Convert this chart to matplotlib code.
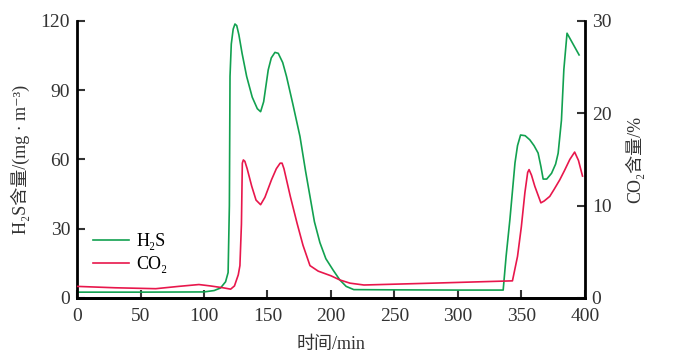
import matplotlib
matplotlib.use("Agg")
import matplotlib.pyplot as plt

plt.rcParams['font.family'] = ['Liberation Serif', 'Noto Sans CJK SC', 'DejaVu Serif']

# H2S (mg/m3)
h2s_time = [0, 50, 100, 108, 113, 117, 119, 120, 120.5, 121.5, 123, 124.4, 125.8, 127.5,
            130, 133.6, 138, 142, 144.6, 147, 150.6, 153, 155.9, 158.5, 162, 165, 170,
            175.6, 180, 183.5, 187, 191.3, 196, 201.8, 207, 212, 218, 250, 300, 335.7,
            338, 341, 345, 347, 349.4, 353, 356.7, 360, 363.2, 365.4, 367.2, 370, 373.8,
            377, 379, 381.6, 383.5, 386, 395.5]
h2s_value = [2.5, 2.5, 2.6, 3.2, 4.3, 7, 11, 40, 96, 110, 116.5, 118.7, 118, 114,
             106, 96, 87, 82, 80.7, 85, 98.8, 104, 106.4, 106, 102, 96, 84,
             70, 55, 44, 33, 24, 17, 12, 7.8, 5, 3.6, 3.5, 3.4, 3.4,
             18, 34, 58.5, 66, 70.6, 70.3, 68.5, 66, 62.8, 57, 51.5, 51.5, 54,
             58, 62.7, 77, 99, 114.7, 105.3]

# CO2 (%)
co2_time = [0, 30, 62, 80, 96, 105, 115, 121, 124, 127, 128.3, 129.5, 130.2, 131,
            132.2, 134, 137.6, 141, 144.6, 148, 153.2, 157, 160, 161.5, 163, 168, 173.3,
            178, 183.5, 190, 200, 207, 215, 226, 280, 343, 347, 350, 352.8, 355, 356.1,
            358, 360.6, 363, 365.4, 368, 372.4, 376, 380.3, 384, 388.2, 392, 395, 398.2]
co2_value = [1.25, 1.1, 1.0, 1.25, 1.45, 1.3, 1.1, 0.95, 1.3, 2.5, 3.5, 8, 14.6, 14.95,
             14.8, 14, 12.1, 10.6, 10.1, 10.9, 12.8, 14, 14.6, 14.6, 14, 11, 8.1,
             5.7, 3.5, 2.9, 2.4, 1.95, 1.6, 1.4, 1.6, 1.85, 4.5, 7.7, 11.4, 13.6, 13.9,
             13.3, 12.1, 11.2, 10.3, 10.5, 11.0, 11.8, 12.8, 13.8, 15.0, 15.8, 14.9, 13.2]

x_ticks = [0, 50, 100, 150, 200, 250, 300, 350, 400]
h2s_ticks = [0, 30, 60, 90, 120]
co2_ticks = [0, 10, 20, 30]

green = '#12a150'
red = '#e8174c'

fig = plt.figure(figsize=(6.88, 3.62), dpi=100)
ax = fig.add_axes([0.112, 0.177, 0.738, 0.765])
ax2 = ax.twinx()

l1, = ax.plot(h2s_time, h2s_value, color=green, lw=1.2, label='H₂S')
l2, = ax2.plot(co2_time, co2_value, color=red, lw=1.2, label='CO₂')

ax.set_xlim(0, 400)
ax.set_ylim(0, 120)
ax2.set_ylim(0, 30)
ax.set_xticks(x_ticks)
ax.set_yticks(h2s_ticks)
ax2.set_yticks(co2_ticks)

for a in (ax, ax2):
    a.spines['top'].set_visible(False)
    for s in ('left', 'right', 'bottom'):
        a.spines[s].set_linewidth(2)
    a.tick_params(direction='in', length=6, width=1.5, labelsize=14, colors='#333333')
ax.spines['right'].set_visible(False)
ax2.spines['left'].set_visible(False)
ax.tick_params(axis='x', pad=7)
ax.tick_params(axis='y', pad=5)
ax2.tick_params(axis='y', pad=5)

ax.set_xlabel('时间/min', fontsize=13, color='#333333', labelpad=8)
ax.set_ylabel('H₂S含量/(mg · m⁻³)', fontsize=13, color='#333333', labelpad=8)
ax2.set_ylabel('CO₂含量/%', fontsize=13, color='#333333', labelpad=10)

ax.legend([l1, l2], ['H₂S', 'CO₂'], loc='lower left', bbox_to_anchor=(0.0, 0.03),
          frameon=False, fontsize=13, handlelength=2.0, handletextpad=0.4,
          labelspacing=0.35)

fig.savefig('out.png', dpi=100)
